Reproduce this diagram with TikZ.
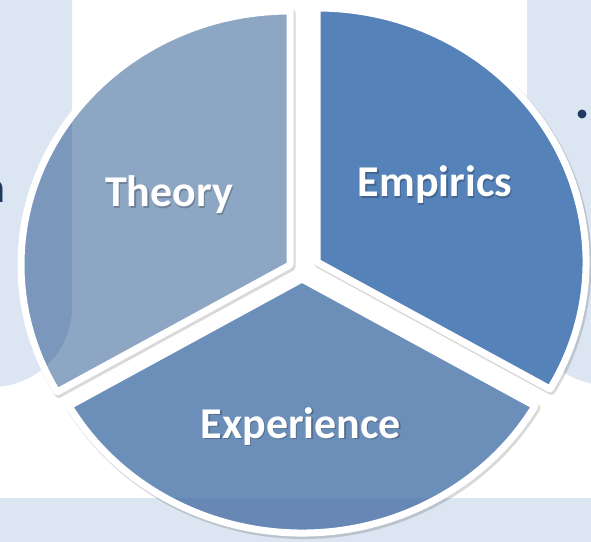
\documentclass[tikz,border=0pt]{standalone}
\usepackage{fontspec}
\setsansfont{Carlito}
\definecolor{panel}{HTML}{DCE6F2}
\definecolor{theoryfill}{HTML}{8DA6C4}
\definecolor{theorydeep}{HTML}{7B98BC}
\definecolor{empiricsfill}{HTML}{5582B8}
\definecolor{experiencefill}{HTML}{6C8FBA}
\definecolor{experiencedeep}{HTML}{6788B5}
\definecolor{navy}{HTML}{1F3A5F}
\begin{document}
\begin{tikzpicture}[x=1pt,y=1pt,
  slicelabel/.style={text=white,font=\sffamily\bfseries\fontsize{44}{50}\selectfont,anchor=base,inner sep=0pt},
  labelshadow/.style={slicelabel,text=black,text opacity=0.22},
  rim/.style={draw=white,line width=7pt,line join=round},
  rimshadow/.style={draw=black,line width=8pt,line join=round,draw opacity=0.15}]
\useasboundingbox (0,0) rectangle (591,541);
\fill[white] (0,0) rectangle (591,541);
% background panels
\def\leftpanel{(-120,800) rectangle (72,154)}
\def\rightpanel{(527,156) rectangle (800,800)}
\def\bottompanel{(-20,-20) rectangle (611,43)}
\fill[panel,rounded corners=80pt] \leftpanel;
\fill[panel,rounded corners=80pt] \rightpanel;
\fill[panel] \bottompanel;
% the three exploded sectors
\def\theory{(290,276) -- +(90:269 and 254) arc[start angle=90,end angle=210,x radius=269,y radius=254] -- cycle}
\def\empirics{(317,279) -- +(-30:269 and 254) arc[start angle=-30,end angle=90,x radius=269,y radius=254] -- cycle}
\def\experience{(302,262) -- +(210:269 and 254) arc[start angle=210,end angle=330,x radius=269,y radius=254] -- cycle}
% soft shadows under the white rims
\begin{scope}[shift={(1.5,-2)}]
  \draw[rimshadow] \theory;
  \draw[rimshadow] \empirics;
  \draw[rimshadow] \experience;
\end{scope}
% fills
\fill[theoryfill] \theory;
\begin{scope}
  \clip \theory;
  \fill[theorydeep,rounded corners=80pt] \leftpanel;
\end{scope}
\fill[empiricsfill] \empirics;
\fill[experiencefill] \experience;
\begin{scope}
  \clip \experience;
  \fill[experiencedeep] \bottompanel;
\end{scope}
% white rims
\draw[rim] \theory;
\draw[rim] \empirics;
\draw[rim] \experience;
% labels
\node[labelshadow] (theoryshadow) at (170.2,332.6) {Theory};
\node[slicelabel] (theorylabel) at (169,334) {Theory};
\node[labelshadow] (empiricsshadow) at (436.2,342.6) {Empirics};
\node[slicelabel] (empiricslabel) at (435,344) {Empirics};
\node[labelshadow] (experienceshadow) at (302.2,101.6) {Experience};
\node[slicelabel] (experiencelabel) at (301,103) {Experience};
% text of the neighbouring panels
\node[circle,fill=navy,minimum size=9pt,inner sep=0pt] (bullet) at (582,427) {};
\node[text=navy,font=\sffamily\fontsize{44}{50}\selectfont,anchor=base east,inner sep=0pt] (cutletter) at (6,338) {n};
\end{tikzpicture}
\end{document}
